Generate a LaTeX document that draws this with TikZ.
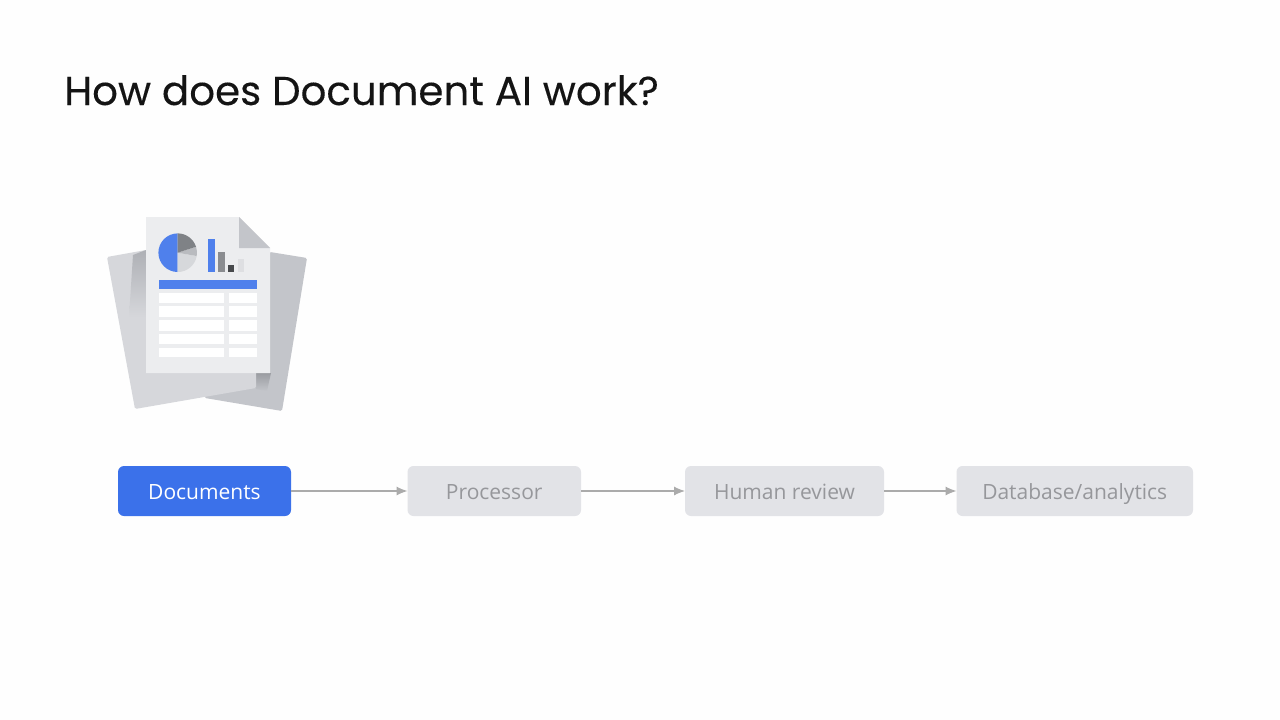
\documentclass[tikz,border=0pt]{standalone}
\usepackage{fontspec}
\setmainfont{Open Sans}
\newfontfamily\titlefont[FakeBold=0.15]{Poppins}
\usetikzlibrary{arrows.meta}
\definecolor{pageC}{HTML}{FEFEFE}
\definecolor{blueA}{HTML}{3B71EA}
\definecolor{blueB}{HTML}{4F80EC}
\definecolor{greyBox}{HTML}{E2E3E7}
\definecolor{greyText}{HTML}{96979B}
\definecolor{greyLine}{HTML}{ABABAB}
\definecolor{sheetF}{HTML}{ECEDEF}
\definecolor{sheetB}{HTML}{D6D7DB}
\definecolor{sheetR}{HTML}{C3C5CA}
\definecolor{shadeC}{HTML}{AEB0B5}
\definecolor{shadeD}{HTML}{9A9CA1}
\definecolor{pieA}{HTML}{D6D8DB}
\definecolor{pieB}{HTML}{B9BBBF}
\definecolor{pieC}{HTML}{7F8286}
\definecolor{barA}{HTML}{8A8C90}
\definecolor{barB}{HTML}{47494C}
\definecolor{barC}{HTML}{DEDFE2}
\tikzset{
  x=1pt,y=-1pt,
  flowbox/.style={rounded corners=6pt,minimum height=50pt,inner sep=0pt,outer sep=0pt,text height=18pt,text depth=2pt,font=\fontsize{21}{24}\selectfont},
  inactive/.style={flowbox,fill=greyBox,text=greyText},
  active/.style={flowbox,fill=blueA,text=white},
  flow/.style={draw=greyLine,line width=1.1pt,-{Latex[length=11pt,width=9pt]}},
  row/.style={fill=white},
}
\begin{document}
\begin{tikzpicture}
\useasboundingbox[fill=pageC] (0,0) rectangle (1280,720);
\node[anchor=base west,inner sep=0pt,font=\titlefont\fontsize{40.4}{50}\selectfont,text=black!92] (title) at (64,105) {How does Document AI work?};
% back sheets
\fill[sheetR,rounded corners=1.5pt] (270,252) -- (307,258) -- (282,411) -- (205,398) -- (160,300) -- cycle;
\shade[top color=shadeD,bottom color=sheetR] (256,373) -- (271,373) -- (267,391) -- (256,389) -- cycle;
\fill[sheetB,rounded corners=1.5pt] (107,257) -- (146,250) -- (256,330) -- (256,388) -- (135,409) -- cycle;
% shadows
\shade[top color=shadeC,bottom color=sheetB] (146,250) -- (133,255) -- (129,317) -- (146,317) -- cycle;
% front sheet
\fill[sheetF] (146,217) -- (239,217) -- (270,248) -- (270,373) -- (146,373) -- cycle;
\fill[sheetR] (239,217) -- (270,248) -- (239,248) -- cycle;
% pie
\fill[blueB] (177.7,233.4) arc[start angle=-90,delta angle=-180,radius=19.3] -- cycle;
\fill[pieA] (177.7,252.7) -- (177.7,272) arc[start angle=90,delta angle=-80,radius=19.3] -- cycle;
\fill[pieB] (177.7,252.7) -- (196.7,256) arc[start angle=10,delta angle=-28,radius=19.3] -- cycle;
\fill[pieC] (177.7,252.7) -- (196,246.7) arc[start angle=-18,delta angle=-72,radius=19.3] -- cycle;
% bars
\fill[blueB] (208.3,239.3) rectangle (215,271.7);
\fill[barA] (218.3,252.3) rectangle (225,271.7);
\fill[barB] (228,265) rectangle (234.3,271.7);
\fill[barC] (237.7,259) rectangle (244,271.7);
% table
\fill[blueB] (159,280) rectangle (257.3,289.3);
\foreach \a/\b in {293.3/303.3,306/316.7,320/330.7,334/344,347.7/357.3}{
  \fill[row] (159,\a) rectangle (224.3,\b);
  \fill[row] (228.7,\a) rectangle (257.3,\b);
}
% flow
\node[active,minimum width=173pt] (documents) at (204.5,491) {Documents};
\node[inactive,minimum width=173.5pt] (processor) at (494.25,491) {Processor};
\node[inactive,minimum width=199pt] (human) at (784.5,491) {Human review};
\node[inactive,minimum width=236.5pt] (database) at (1074.75,491) {Database/analytics};
\draw[flow] (documents) -- (processor);
\draw[flow] (processor) -- (human);
\draw[flow] (human) -- (database);
\end{tikzpicture}
\end{document}
